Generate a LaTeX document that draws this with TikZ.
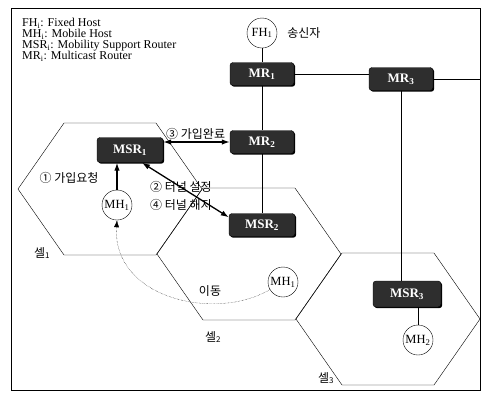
\documentclass[tikz,border=0pt]{standalone}
\usepackage{fontspec}
\setmainfont{Liberation Serif}
\newfontfamily\kr{Noto Sans CJK KR}
\usetikzlibrary{positioning,arrows.meta,shadows}
\newcommand\tightlines{\lineskiplimit=-20pt\relax}

\begin{document}
\begin{tikzpicture}[x=1pt,y=-1pt,
  router/.style={draw=black, fill=black!82, rounded corners=3pt, text=white,
    font=\fontsize{13}{13}\selectfont\bfseries, minimum width=64pt, minimum height=23pt,
    inner sep=0pt, drop shadow={fill=black, shadow xshift=1.2pt, shadow yshift=-1.2pt, opacity=1}},
  host/.style={draw, circle, fill=white, minimum size=30pt, inner sep=0pt, font=\fontsize{12.5}{12.5}\selectfont},
  msg/.style={font=\kr\fontsize{12}{12}\selectfont, inner sep=1pt},
  flow/.style={line width=1.3pt, -{Latex[length=8pt,width=5.5pt]}},
  flows/.style={line width=1.3pt, {Latex[length=8pt,width=5.5pt]}-{Latex[length=8pt,width=5.5pt]}}]

\useasboundingbox (0,0) rectangle (484,392);
\draw (11,8) rectangle (480,390);
\coordinate (fr) at (480,0);

% cells
\foreach \cx/\cy in {110/189, 249/254, 388/319}
  \draw (\cx-92,\cy) -- (\cx-46,\cy-66) -- (\cx+46,\cy-66) -- (\cx+92,\cy)
    -- (\cx+46,\cy+66) -- (\cx-46,\cy+66) -- cycle;

% legend
\node[anchor=north west, inner sep=0pt, align=left,
  font=\fontsize{12}{10.9}\selectfont\tightlines] (legend) at (22,18)
  {FH\textsubscript{i}: Fixed Host\\ MH\textsubscript{i}: Mobile Host\\
   MSR\textsubscript{i}: Mobility Support Router\\ MR\textsubscript{i}: Multicast Router};

% routers and hosts
\node[host] (fh1) at (262,33) {FH\textsubscript{1}};
\node[msg, right=9pt of fh1] (sender) {송신자};
\node[router] (mr1) at (262,74) {MR\textsubscript{1}};
\node[router] (mr3) at (401,79) {MR\textsubscript{3}};
\node[router] (mr2) at (262,142) {MR\textsubscript{2}};
\node[router, minimum width=66pt, minimum height=25pt] (msr1) at (130,150) {MSR\textsubscript{1}};
\node[router, minimum width=66pt] (msr2) at (262,225) {MSR\textsubscript{2}};
\node[router, minimum width=68pt, minimum height=26pt] (msr3) at (407,294) {MSR\textsubscript{3}};
\node[host] (mh1a) at (117,205) {MH\textsubscript{1}};
\node[host] (mh1b) at (283,282) {MH\textsubscript{1}};
\node[host] (mh2) at (418,340) {MH\textsubscript{2}};

% wires
\draw (fh1) -- (mr1);
\draw (mr1.east) -- (mr1.east -| mr3.west);
\draw (mr3.east) -- (mr3.east -| fr);
\draw (mr1) -- (mr2);
\draw (mr2) -- (msr2);
\draw (mr3) -- (mr3 |- msr3.north);
\draw (mh2) -- (mh2 |- msr3.south);

% messages
\draw[flow] (mh1a) -- (msr1.south -| mh1a);
\draw[flows] (msr1.east |- mr2) -- (mr2.west);
\draw[flows] ([xshift=12pt]msr1.south) -- ([yshift=-4pt]msr2.north west);
\draw[densely dotted, -{Latex[length=7pt,width=5pt]}] (mh1b.210) .. controls (215,322) and (112,298) .. (mh1a.south);

\node[msg, anchor=west] (join) at (165,134) {③ 가입완료};
\node[msg] (req) at (69,178) {① 가입요청};
\node[msg, anchor=west] (tset) at (149,187) {② 터널 설정};
\node[msg, anchor=west] (trel) at (149,205) {④ 터널 해지};
\node[msg] (move) at (210,291) {이동};
\node[msg] (cell1) at (42,253) {셀\textsubscript{1}};
\node[msg] (cell2) at (213,337) {셀\textsubscript{2}};
\node[msg] (cell3) at (326,378) {셀\textsubscript{3}};

\end{tikzpicture}
\end{document}
